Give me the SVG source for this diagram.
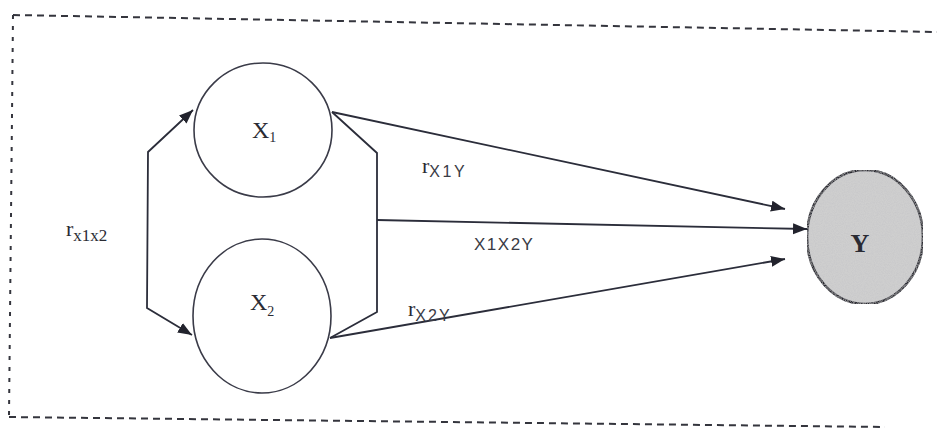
<svg xmlns="http://www.w3.org/2000/svg" width="937" height="430" viewBox="0 0 937 430">
<style>
.frame{fill:none;stroke:#34353d;stroke-width:2}
.h{stroke-dasharray:7 5}
.v{stroke-dasharray:4 7}
.node{fill:#ffffff;stroke:#3a3b48;stroke-width:1.6}
.ynode{fill:#cfcfcf;stroke:#2a2b33;stroke-width:2.6}
.conn{fill:none;stroke:#2b2d3a;stroke-width:1.8}
.serif{font-family:"Liberation Serif","Times New Roman",serif;fill:#2a2b33}
.sans{font-family:"Liberation Sans",Arial,sans-serif;fill:#3a3b45}
</style>
<defs>
<marker id="arr" markerUnits="userSpaceOnUse" markerWidth="15" markerHeight="12" refX="14" refY="5.5" orient="auto-start-reverse">
<path d="M0,0 L14,5.5 L0,11 z" fill="#22232d"/>
</marker>
<filter id="grain" x="0" y="0" width="100%" height="100%">
<feTurbulence type="fractalNoise" baseFrequency="0.9" numOctaves="2" seed="3" result="n"/>
<feColorMatrix in="n" type="matrix" values="0 0 0 0 0.55  0 0 0 0 0.55  0 0 0 0 0.57  0 0 0 1.1 -0.35" result="dots"/>
<feComposite in="dots" in2="SourceGraphic" operator="in" result="d2"/>
<feMerge><feMergeNode in="SourceGraphic"/><feMergeNode in="d2"/></feMerge>
</filter>
</defs>
<rect width="937" height="430" fill="#ffffff"/>
<g id="frame">
<path class="frame h" d="M13,15 L937,32"/>
<path class="frame v" d="M13,15 L9,416"/>
<path class="frame h" d="M9,417 L885,427"/>
</g>
<g id="connectors">
<path class="conn" d="M193,110 L148,152 L147,308 L192,335" marker-start="url(#arr)" marker-end="url(#arr)"/>
<path class="conn" d="M332,112 L377,153 L377,312 L330,338"/>
<path class="conn" d="M377,220 L807,229" marker-end="url(#arr)"/>
<path class="conn" d="M332,112 L785,209" marker-end="url(#arr)"/>
<path class="conn" d="M330,338 L785,259" marker-end="url(#arr)"/>
</g>
<g id="node-x1">
<ellipse class="node" cx="263" cy="130" rx="69" ry="67"/>
<text class="serif" x="252" y="138" font-size="24">X<tspan font-size="14" dy="4">1</tspan></text>
</g>
<g id="node-x2">
<ellipse class="node" cx="262" cy="316" rx="69" ry="77"/>
<text class="serif" x="250" y="310" font-size="24">X<tspan font-size="14" dy="6">2</tspan></text>
</g>
<g id="node-y">
<ellipse class="ynode" cx="865" cy="237" rx="58" ry="67" filter="url(#grain)"/>
<text class="serif" x="860" y="252" font-size="26" font-weight="bold" text-anchor="middle">Y</text>
</g>
<g id="labels">
<text class="serif" x="66" y="236" font-size="22">r<tspan font-size="17" dy="5">x1x2</tspan></text>
<text class="serif" x="422" y="173" font-size="22">r<tspan class="sans" font-size="16" dy="4" letter-spacing="2.5">X1Y</tspan></text>
<text class="sans" x="474" y="250" font-size="17" letter-spacing="1.5">X1X2Y</text>
<text class="serif" x="408" y="316" font-size="22">r<tspan class="sans" font-size="16" dy="5" letter-spacing="2">X2Y</tspan></text>
</g>
</svg>
